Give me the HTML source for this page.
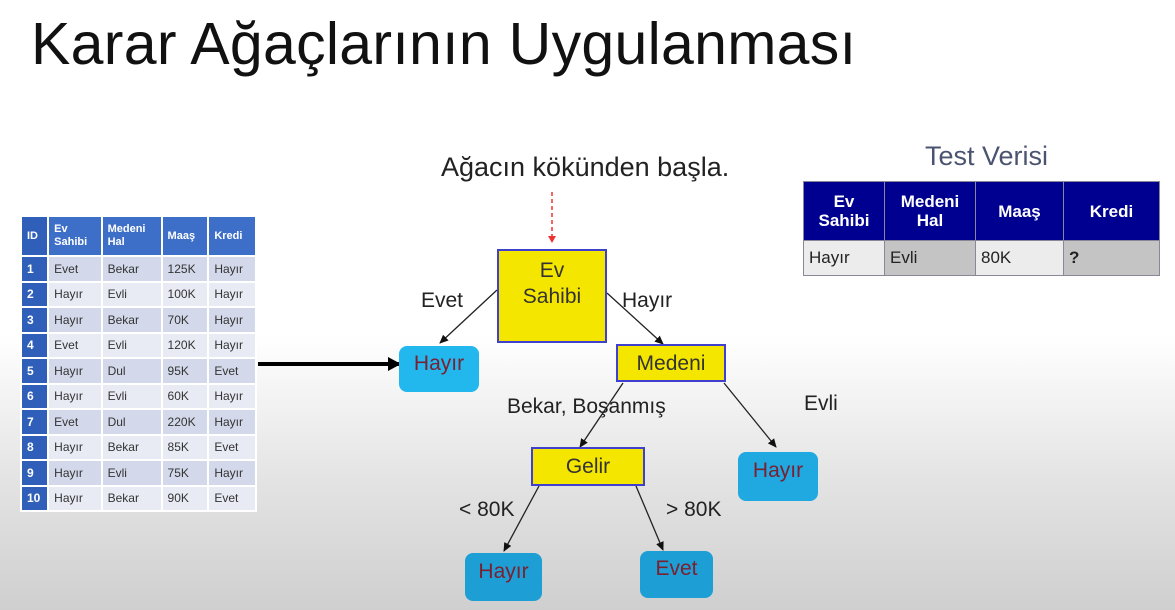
<!DOCTYPE html>
<html><head><meta charset="utf-8"><style>
*{margin:0;padding:0;box-sizing:border-box}
body{width:1175px;height:610px;overflow:hidden;position:relative;font-family:"Liberation Sans",sans-serif;background:linear-gradient(#fff 0%,#fff 55%,#e2e2e2 80%,#cfcfcf 100%)}
.a{position:absolute}
.t{position:absolute;white-space:nowrap}
table{border-collapse:collapse;position:absolute}
#lt{left:20px;top:215px;width:237px;font-size:12px}
#lt td{height:25.5px;padding-left:5px;color:#333;border:2px solid #fff}
#lt tr.h td{height:40px;background:#3e6fc8;color:#fff;font-weight:bold;font-size:11px;line-height:13px}
#lt td.id{background:#2f5fb8;color:#fff;font-weight:bold}
#lt tr.o td{background:#d3d9ea}#lt tr.e td{background:#e8ebf4}
#lt tr td.id{background:#2f5fb8}
#tt{left:803px;top:181px;width:357px;font-size:17px}
#tt td{border:1px solid #889}
#tt tr.h td{height:59px;background:#000090;color:#fff;font-weight:bold;text-align:center;line-height:19px}
#tt tr.r td{height:35px;padding-left:5px;color:#222}
.y{background:#f5e600;border:2px solid #4040d0;color:#333;text-align:center;position:absolute}
.b{position:absolute;border-radius:8px;color:#7a2030;text-align:center;font-size:21px}
.l{font-size:21px;color:#222}
</style></head><body>
<div class="t" style="left:31px;top:10px;font-size:59px;color:#111;letter-spacing:0.3px">Karar Ağaçlarının Uygulanması</div>
<div class="t" style="left:441px;top:152px;font-size:27px;color:#222">Ağacın kökünden başla.</div>
<div class="t" style="left:925px;top:141px;font-size:27px;color:#4a5470">Test Verisi</div>

<table id="lt">
<tr class="h"><td class="id">ID</td><td>Ev<br>Sahibi</td><td>Medeni<br>Hal</td><td>Maaş</td><td>Kredi</td></tr>
<tr class="o"><td class="id">1</td><td>Evet</td><td>Bekar</td><td>125K</td><td>Hayır</td></tr>
<tr class="e"><td class="id">2</td><td>Hayır</td><td>Evli</td><td>100K</td><td>Hayır</td></tr>
<tr class="o"><td class="id">3</td><td>Hayır</td><td>Bekar</td><td>70K</td><td>Hayır</td></tr>
<tr class="e"><td class="id">4</td><td>Evet</td><td>Evli</td><td>120K</td><td>Hayır</td></tr>
<tr class="o"><td class="id">5</td><td>Hayır</td><td>Dul</td><td>95K</td><td>Evet</td></tr>
<tr class="e"><td class="id">6</td><td>Hayır</td><td>Evli</td><td>60K</td><td>Hayır</td></tr>
<tr class="o"><td class="id">7</td><td>Evet</td><td>Dul</td><td>220K</td><td>Hayır</td></tr>
<tr class="e"><td class="id">8</td><td>Hayır</td><td>Bekar</td><td>85K</td><td>Evet</td></tr>
<tr class="o"><td class="id">9</td><td>Hayır</td><td>Evli</td><td>75K</td><td>Hayır</td></tr>
<tr class="e"><td class="id">10</td><td>Hayır</td><td>Bekar</td><td>90K</td><td>Evet</td></tr>
</table>

<table id="tt">
<tr class="h"><td style="width:81px">Ev<br>Sahibi</td><td style="width:91px">Medeni<br>Hal</td><td style="width:88px">Maaş</td><td>Kredi</td></tr>
<tr class="r"><td style="background:#ececec">Hayır</td><td style="background:#c4c4c4">Evli</td><td style="background:#ececec">80K</td><td style="background:#c4c4c4;font-weight:bold">?</td></tr>
</table>

<svg class="a" style="left:0;top:0" width="1175" height="610">
<defs><marker id="m" markerWidth="10" markerHeight="10" refX="8" refY="5" orient="auto" markerUnits="userSpaceOnUse"><path d="M0,1 L9,5 L0,9 Z" fill="#111"/></marker>
<marker id="M" markerWidth="14" markerHeight="14" refX="12" refY="7" orient="auto" markerUnits="userSpaceOnUse"><path d="M0,0 L13,7 L0,14 Z" fill="#000"/></marker></defs>
<line x1="552" y1="192" x2="552" y2="240" stroke="#e33" stroke-width="1.5" stroke-dasharray="4,3"/>
<path d="M548,236 L552,243 L556,236 Z" fill="#e33"/>
<line x1="258" y1="364" x2="400" y2="364" stroke="#000" stroke-width="4" marker-end="url(#M)"/>
<g stroke="#222" stroke-width="1.3" fill="none">
<line x1="497" y1="290" x2="440" y2="343" marker-end="url(#m)"/>
<line x1="607" y1="293" x2="663" y2="344" marker-end="url(#m)"/>
<line x1="623" y1="383" x2="580" y2="447" marker-end="url(#m)"/>
<line x1="724" y1="383" x2="776" y2="447" marker-end="url(#m)"/>
<line x1="539" y1="486" x2="504" y2="551" marker-end="url(#m)"/>
<line x1="636" y1="486" x2="663" y2="550" marker-end="url(#m)"/>
</g>
</svg>

<div class="y" style="left:497px;top:249px;width:110px;height:94px;font-size:21px;line-height:26px;padding-top:7px">Ev<br>Sahibi</div>
<div class="y" style="left:616px;top:344px;width:110px;height:38px;font-size:21px;line-height:36px">Medeni</div>
<div class="y" style="left:531px;top:447px;width:114px;height:39px;font-size:21px;line-height:36px">Gelir</div>

<div class="b" style="left:399px;top:346px;width:80px;height:46px;background:#22b8ee;line-height:36px">Hayır</div>
<div class="b" style="left:738px;top:452px;width:80px;height:49px;background:#1fa9e0;line-height:38px">Hayır</div>
<div class="b" style="left:465px;top:553px;width:77px;height:48px;background:#1d9fd5;line-height:38px">Hayır</div>
<div class="b" style="left:640px;top:551px;width:73px;height:47px;background:#1d9fd5;line-height:36px">Evet</div>

<div class="t l" style="left:421px;top:289px">Evet</div>
<div class="t l" style="left:622px;top:289px">Hayır</div>
<div class="t l" style="left:507px;top:395px">Bekar, Boşanmış</div>
<div class="t l" style="left:804px;top:392px">Evli</div>
<div class="t l" style="left:459px;top:498px">&lt; 80K</div>
<div class="t l" style="left:666px;top:498px">&gt; 80K</div>
</body></html>
